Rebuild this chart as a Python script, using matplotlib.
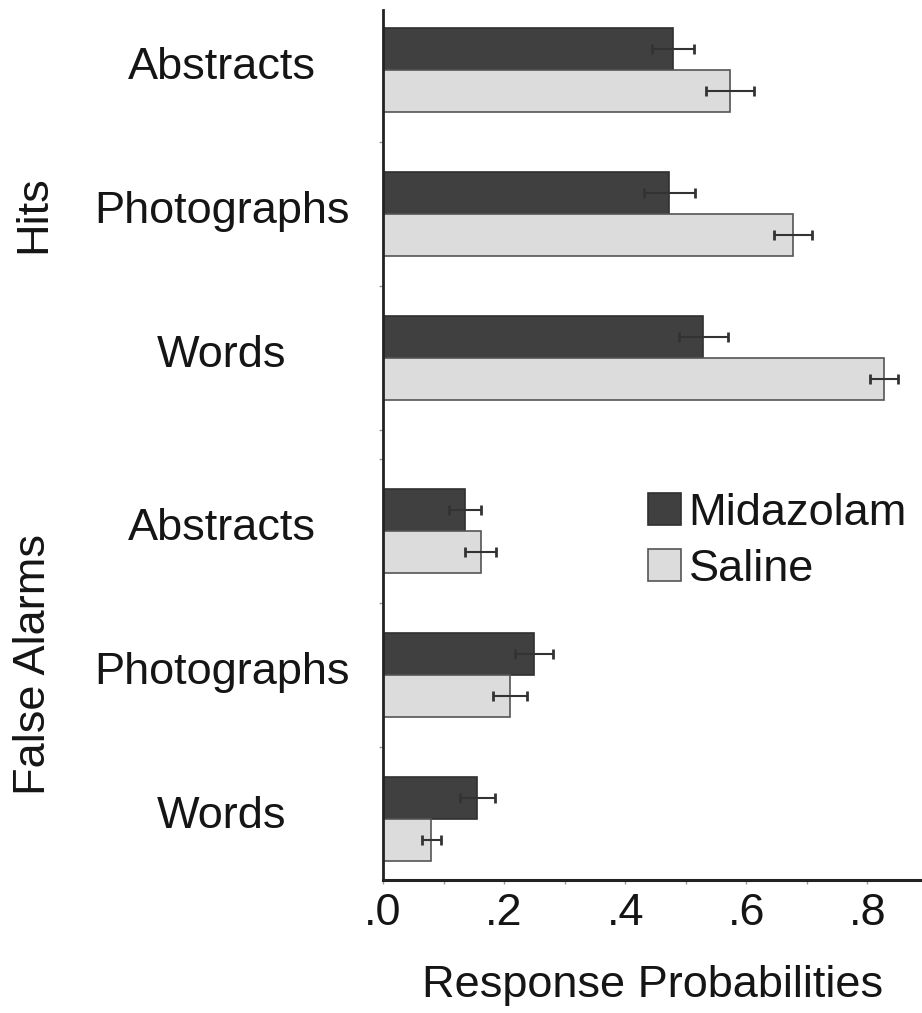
import matplotlib
matplotlib.use("Agg")
import matplotlib.pyplot as plt
from matplotlib.patches import Patch
import matplotlib.transforms as mtransforms
import numpy as np

plt.rcParams['font.family'] = ['Liberation Sans', 'DejaVu Sans']

# ---- data ----
categories = ["Abstracts", "Photographs", "Words", "Abstracts", "Photographs", "Words"]
groups = ["Hits", "False Alarms"]
midazolam = [0.479, 0.473, 0.529, 0.135, 0.249, 0.156]
midazolam_err = [0.035, 0.042, 0.041, 0.026, 0.031, 0.029]
saline = [0.573, 0.677, 0.827, 0.161, 0.209, 0.080]
saline_err = [0.040, 0.032, 0.023, 0.026, 0.028, 0.016]
xtick_values = [0.0, 0.2, 0.4, 0.6, 0.8]
xtick_labels = [".0", ".2", ".4", ".6", ".8"]

# ---- layout ----
pos = np.array([0, 1, 2, 3.2, 4.2, 5.2])
h = 0.29
fs = 32.5
dark = "#404040"
light = "#dcdcdc"
txt = "#151515"

fig = plt.figure(figsize=(9.22, 10.13), dpi=100)
ax = fig.add_axes([383/922, 1-880/1013, 1-383/922, (880-10)/1013])

ax.barh(pos - h/2, midazolam, height=h, color=dark, edgecolor="#303030", linewidth=1.2, zorder=2)
ax.barh(pos + h/2, saline, height=h, color=light, edgecolor="#555555", linewidth=1.2, zorder=2)
ax.errorbar(midazolam, pos - h/2, xerr=midazolam_err, fmt="none", ecolor="#333333",
            elinewidth=1.5, capsize=3.5, capthick=2, zorder=3)
ax.errorbar(saline, pos + h/2, xerr=saline_err, fmt="none", ecolor="#333333",
            elinewidth=1.5, capsize=3.5, capthick=2, zorder=3)

ax.set_xlim(0, 0.89)
ax.set_ylim(5.625, -0.417)

ax.spines['top'].set_visible(False)
ax.spines['right'].set_visible(False)
ax.spines['left'].set_linewidth(2)
ax.spines['bottom'].set_linewidth(2.2)
ax.spines['left'].set_color("#222222")
ax.spines['bottom'].set_color("#222222")

ax.set_xticks(xtick_values)
ax.set_xticklabels(xtick_labels, fontsize=fs, color=txt)
ax.set_xticks(np.arange(0.1, 0.9, 0.2), minor=True)
ax.tick_params(axis='x', which='both', length=3, width=1, color="#999999", pad=6)

ax.set_yticks(pos)
ax.set_yticklabels(categories, fontsize=fs, color=txt, ha="center")
ax.tick_params(axis='y', which='major', length=0, pad=116)
ax.set_yticks([0.5, 1.5, 2.5, 2.7, 3.7, 4.7], minor=True)
ax.tick_params(axis='y', which='minor', length=3, width=1, color="#999999")
offset = mtransforms.ScaledTranslation(0, 7/100, fig.dpi_scale_trans)
for lab in ax.get_yticklabels():
    lab.set_transform(lab.get_transform() + offset)

ax.set_xlabel("Response Probabilities", fontsize=fs, color=txt)
ax.xaxis.set_label_coords(0.5, -0.098)

trans = mtransforms.blended_transform_factory(fig.transFigure, ax.transData)
ax.text(34/922, pos[:3].mean(), groups[0], rotation=90, ha="center", va="center",
        fontsize=fs, color=txt, transform=trans)
ax.text(34/922, pos[3:].mean() - 0.07, groups[1], rotation=90, ha="center", va="center",
        fontsize=fs, color=txt, transform=trans)

handles = [Patch(facecolor=dark, edgecolor="#303030", linewidth=1.2),
           Patch(facecolor=light, edgecolor="#555555", linewidth=1.2)]
ax.legend(handles, ["Midazolam", "Saline"], loc="upper left",
          bbox_to_anchor=((648-383)/539, (880-493)/870), frameon=False,
          fontsize=fs, handlelength=0.72, handleheight=0.72, handletextpad=0.18,
          labelspacing=0.33, borderpad=0, borderaxespad=0, labelcolor=txt)

fig.savefig("out.png", dpi=100)
